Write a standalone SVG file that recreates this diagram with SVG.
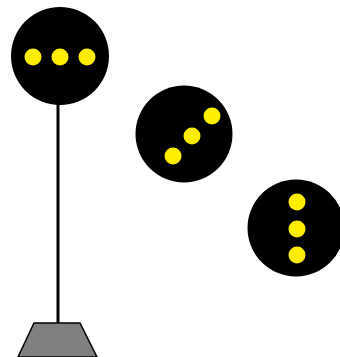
<svg xmlns="http://www.w3.org/2000/svg" width="340" height="357" viewBox="0 0 340 357">
<style>
.disc{fill:#000}
.lamp{fill:#ffee00}
</style>
<rect width="340" height="357" fill="#fff"/>
<g id="pole">
<line x1="58" y1="100" x2="58" y2="324" stroke="#000" stroke-width="3"/>
<polygon points="34,323 80,323 97,357 18,357" fill="#808080" stroke="#000" stroke-width="1.5"/>
</g>
<g id="signal-horizontal">
<circle class="disc" cx="60" cy="56" r="49"/>
<circle class="lamp" cx="33" cy="57" r="8.5"/>
<circle class="lamp" cx="60" cy="57" r="8.5"/>
<circle class="lamp" cx="87" cy="57" r="8.5"/>
</g>
<g id="signal-diagonal">
<circle class="disc" cx="184" cy="134" r="48.5"/>
<circle class="lamp" cx="173" cy="156" r="8.5"/>
<circle class="lamp" cx="192" cy="136" r="8.5"/>
<circle class="lamp" cx="212" cy="116" r="8.5"/>
</g>
<g id="signal-vertical">
<circle class="disc" cx="296" cy="228" r="48.5"/>
<circle class="lamp" cx="297" cy="202" r="8.5"/>
<circle class="lamp" cx="297" cy="229" r="8.5"/>
<circle class="lamp" cx="297" cy="255" r="8.5"/>
</g>
</svg>
